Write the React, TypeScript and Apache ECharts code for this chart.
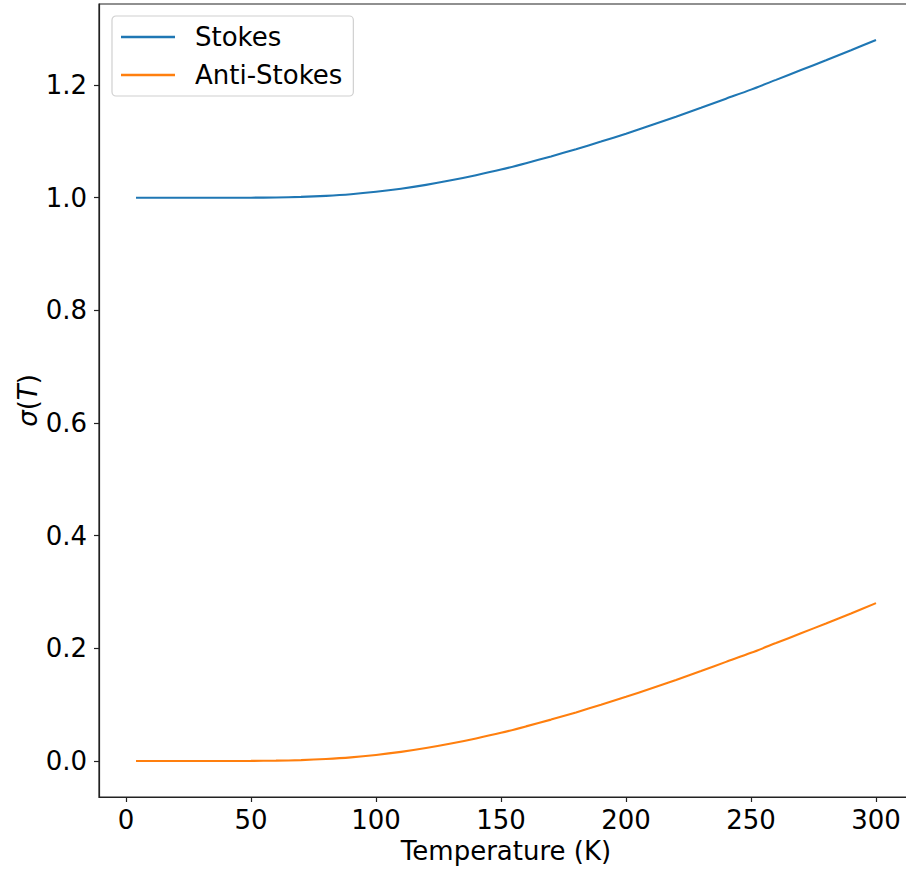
import React, { useEffect, useRef } from "react";
import * as echarts from "echarts";

const temperatures = [4, 10, 20, 30, 40, 50, 60, 70, 80, 90, 100, 110, 120, 130, 140, 150, 160, 170, 180, 190, 200, 210, 220, 230, 240, 250, 260, 270, 280, 290, 300];
const antiStokes = [0, 0, 0, 0, 0.00001, 0.0001, 0.0005, 0.0015, 0.0034, 0.0063, 0.0106, 0.0161, 0.0229, 0.0309, 0.04, 0.05, 0.0614, 0.0734, 0.0862, 0.0998, 0.1138, 0.1287, 0.1439, 0.1597, 0.1759, 0.192, 0.2093, 0.2267, 0.2441, 0.2619, 0.2802];
const stokes = [1, 1, 1, 1, 1.00001, 1.0001, 1.0005, 1.0015, 1.0034, 1.0063, 1.0106, 1.0161, 1.0229, 1.0309, 1.04, 1.05, 1.0614, 1.0734, 1.0862, 1.0998, 1.1138, 1.1287, 1.1439, 1.1597, 1.1759, 1.192, 1.2093, 1.2267, 1.2441, 1.2619, 1.2802];
const xTicks = [0, 50, 100, 150, 200, 250, 300];
const yTicks = [0, 0.2, 0.4, 0.6, 0.8, 1.0, 1.2];
const seriesNames = ["Stokes", "Anti-Stokes"];

const FONT = "DejaVu Sans";
const FS = 26;

export default function App() {
  const ref = useRef<HTMLDivElement>(null);
  useEffect(() => {
    if (!ref.current) return;
    const chart = echarts.init(ref.current, undefined, { renderer: "svg" });
    const toPairs = (ys: number[]) => temperatures.map((t, i) => [t, ys[i]]);
    chart.setOption({
      animation: false,
      backgroundColor: "#ffffff",
      textStyle: { fontFamily: FONT },
      grid: {
        left: 99,
        top: 4,
        right: 17,
        bottom: 72,
        show: true,
        borderColor: "#222",
        borderWidth: 1.2,
        backgroundColor: "transparent",
      },
      legend: {
        left: 112,
        top: 16,
        orient: "vertical",
        data: seriesNames,
        icon: "rect",
        itemWidth: 54,
        itemHeight: 2.5,
        itemGap: 12,
        padding: [8, 11, 8, 9],
        borderColor: "#d0d0d0",
        borderWidth: 1.2,
        borderRadius: 4,
        backgroundColor: "rgba(255,255,255,0.8)",
        textStyle: { fontFamily: FONT, fontSize: FS, color: "#000", padding: [0, 0, 0, 15] },
      },
      xAxis: {
        type: "value",
        min: -10.8,
        max: 314.8,
        name: "Temperature (K)",
        nameLocation: "middle",
        nameGap: 40,
        nameTextStyle: { fontFamily: FONT, fontSize: FS, color: "#000" },
        axisLine: { show: true, onZero: false, lineStyle: { color: "#222", width: 1.2 } },
        axisTick: { show: true, inside: false, length: 5, customValues: xTicks, lineStyle: { color: "#222", width: 1.2 } },
        axisLabel: { customValues: xTicks, margin: 10, fontFamily: FONT, fontSize: FS, color: "#000", formatter: (v: number) => String(v) },
        splitLine: { show: false },
      },
      yAxis: {
        type: "value",
        min: -0.064,
        max: 1.344,
        name: "{i|σ}{n|(}{i|T}{n|)}",
        nameLocation: "middle",
        nameGap: 58,
        nameMoveOverlap: false,
        nameRotate: 90,
        nameTextStyle: {
          fontFamily: FONT,
          fontSize: FS,
          color: "#000",
          rich: {
            i: { fontFamily: FONT, fontSize: FS, fontStyle: "italic", color: "#000" },
            n: { fontFamily: FONT, fontSize: FS, color: "#000" },
          },
        },
        axisLine: { show: true, onZero: false, lineStyle: { color: "#222", width: 1.2 } },
        axisTick: { show: true, inside: false, length: 5, customValues: yTicks, lineStyle: { color: "#222", width: 1.2 } },
        axisLabel: { customValues: yTicks, margin: 12, fontFamily: FONT, fontSize: FS, color: "#000", formatter: (v: number) => v.toFixed(1) },
        splitLine: { show: false },
      },
      series: [
        {
          name: seriesNames[0],
          type: "line",
          data: toPairs(stokes),
          showSymbol: false,
          symbol: "none",
          smooth: 0.3,
          lineStyle: { color: "#1f77b4", width: 2.1 },
          itemStyle: { color: "#1f77b4" },
        },
        {
          name: seriesNames[1],
          type: "line",
          data: toPairs(antiStokes),
          showSymbol: false,
          symbol: "none",
          smooth: 0.3,
          lineStyle: { color: "#ff7f0e", width: 2.1 },
          itemStyle: { color: "#ff7f0e" },
        },
      ],
    });
    return () => chart.dispose();
  }, []);
  return (
    <div style={{ position: "absolute", left: 0, top: 0, width: 906, height: 869, overflow: "hidden", background: "#fff" }}>
      <div ref={ref} style={{ width: 930, height: 869 }} />
    </div>
  );
}
